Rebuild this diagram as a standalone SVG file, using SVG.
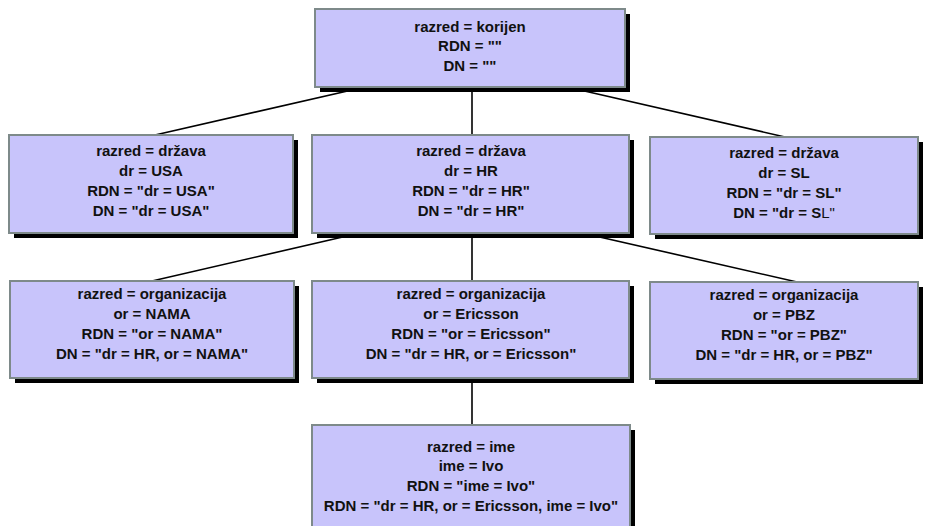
<svg xmlns="http://www.w3.org/2000/svg" width="929" height="526" viewBox="0 0 929 526">
<style>
.sh{fill:#000}
.bx{fill:#C8C4FB;stroke:#7E8A8A;stroke-width:2}
.t{font-family:"Liberation Sans",Arial,sans-serif;font-weight:bold;font-size:15px;fill:#111;text-anchor:middle}
.c{stroke:#000;stroke-width:1.6;fill:none}
</style>
<rect width="929" height="526" fill="#fff"/>
<g id="connectors">
<line class="c" x1="155" y1="135" x2="365" y2="87"/>
<line class="c" x1="472" y1="87" x2="472" y2="135"/>
<line class="c" x1="567" y1="87" x2="785" y2="137"/>
<line class="c" x1="152" y1="281" x2="360" y2="233"/>
<line class="c" x1="472" y1="233" x2="472" y2="281"/>
<line class="c" x1="582" y1="233" x2="797" y2="282"/>
<line class="c" x1="472" y1="378" x2="472" y2="425"/>
</g>
<g id="root">
<rect class="sh" x="320" y="14" width="310" height="78"/>
<rect class="bx" x="315" y="9" width="310" height="78"/>
<text class="t" x="470" y="31.5">razred = korijen</text>
<text class="t" x="470" y="51">RDN = ""</text>
<text class="t" x="470" y="71">DN = ""</text>
</g>
<g id="usa">
<rect class="sh" x="14" y="140" width="284" height="98"/>
<rect class="bx" x="9" y="135" width="284" height="98"/>
<text class="t" x="151" y="155.5">razred = država</text>
<text class="t" x="151" y="175.5">dr = USA</text>
<text class="t" x="151" y="195.5">RDN = "dr = USA"</text>
<text class="t" x="151" y="215.5">DN = "dr = USA"</text>
</g>
<g id="hr">
<rect class="sh" x="317" y="140" width="317" height="98"/>
<rect class="bx" x="312" y="135" width="317" height="98"/>
<text class="t" x="471" y="155.5">razred = država</text>
<text class="t" x="471" y="175.5">dr = HR</text>
<text class="t" x="471" y="195.5">RDN = "dr = HR"</text>
<text class="t" x="471" y="215.5">DN = "dr = HR"</text>
</g>
<g id="sl">
<rect class="sh" x="655" y="142" width="268" height="97"/>
<rect class="bx" x="650" y="137" width="268" height="97"/>
<text class="t" x="784" y="157.5">razred = država</text>
<text class="t" x="784" y="177.5">dr = SL</text>
<text class="t" x="784" y="197.5">RDN = "dr = SL"</text>
<text class="t" x="784" y="217.5">DN = "dr = S<tspan font-weight="normal">L"</tspan></text>
</g>
<g id="nama">
<rect class="sh" x="15" y="286" width="284" height="97"/>
<rect class="bx" x="10" y="281" width="284" height="97"/>
<text class="t" x="152" y="298.5">razred = organizacija</text>
<text class="t" x="152" y="318.5">or = NAMA</text>
<text class="t" x="152" y="338.5">RDN = "or = NAMA"</text>
<text class="t" x="152" y="358.5">DN = "dr = HR, or = NAMA"</text>
</g>
<g id="ericsson">
<rect class="sh" x="317" y="286" width="317" height="97"/>
<rect class="bx" x="312" y="281" width="317" height="97"/>
<text class="t" x="471" y="298.5">razred = organizacija</text>
<text class="t" x="471" y="318.5">or = Ericsson</text>
<text class="t" x="471" y="338.5">RDN = "or = Ericsson"</text>
<text class="t" x="471" y="358.5">DN = "dr = HR, or = Ericsson"</text>
</g>
<g id="pbz">
<rect class="sh" x="655" y="287" width="268" height="97"/>
<rect class="bx" x="650" y="282" width="268" height="97"/>
<text class="t" x="784" y="299.5">razred = organizacija</text>
<text class="t" x="784" y="319.5">or = PBZ</text>
<text class="t" x="784" y="339.5">RDN = "or = PBZ"</text>
<text class="t" x="784" y="359.5">DN = "dr = HR, or = PBZ"</text>
</g>
<g id="ime">
<rect class="sh" x="317" y="430" width="318" height="110"/>
<rect class="bx" x="312" y="425" width="318" height="110"/>
<text class="t" x="471" y="451.5">razred = ime</text>
<text class="t" x="471" y="471">ime = Ivo</text>
<text class="t" x="471" y="490.5">RDN = "ime = Ivo"</text>
<text class="t" x="471" y="510.5">RDN = "dr = HR, or = Ericsson, ime = Ivo"</text>
</g>
</svg>
